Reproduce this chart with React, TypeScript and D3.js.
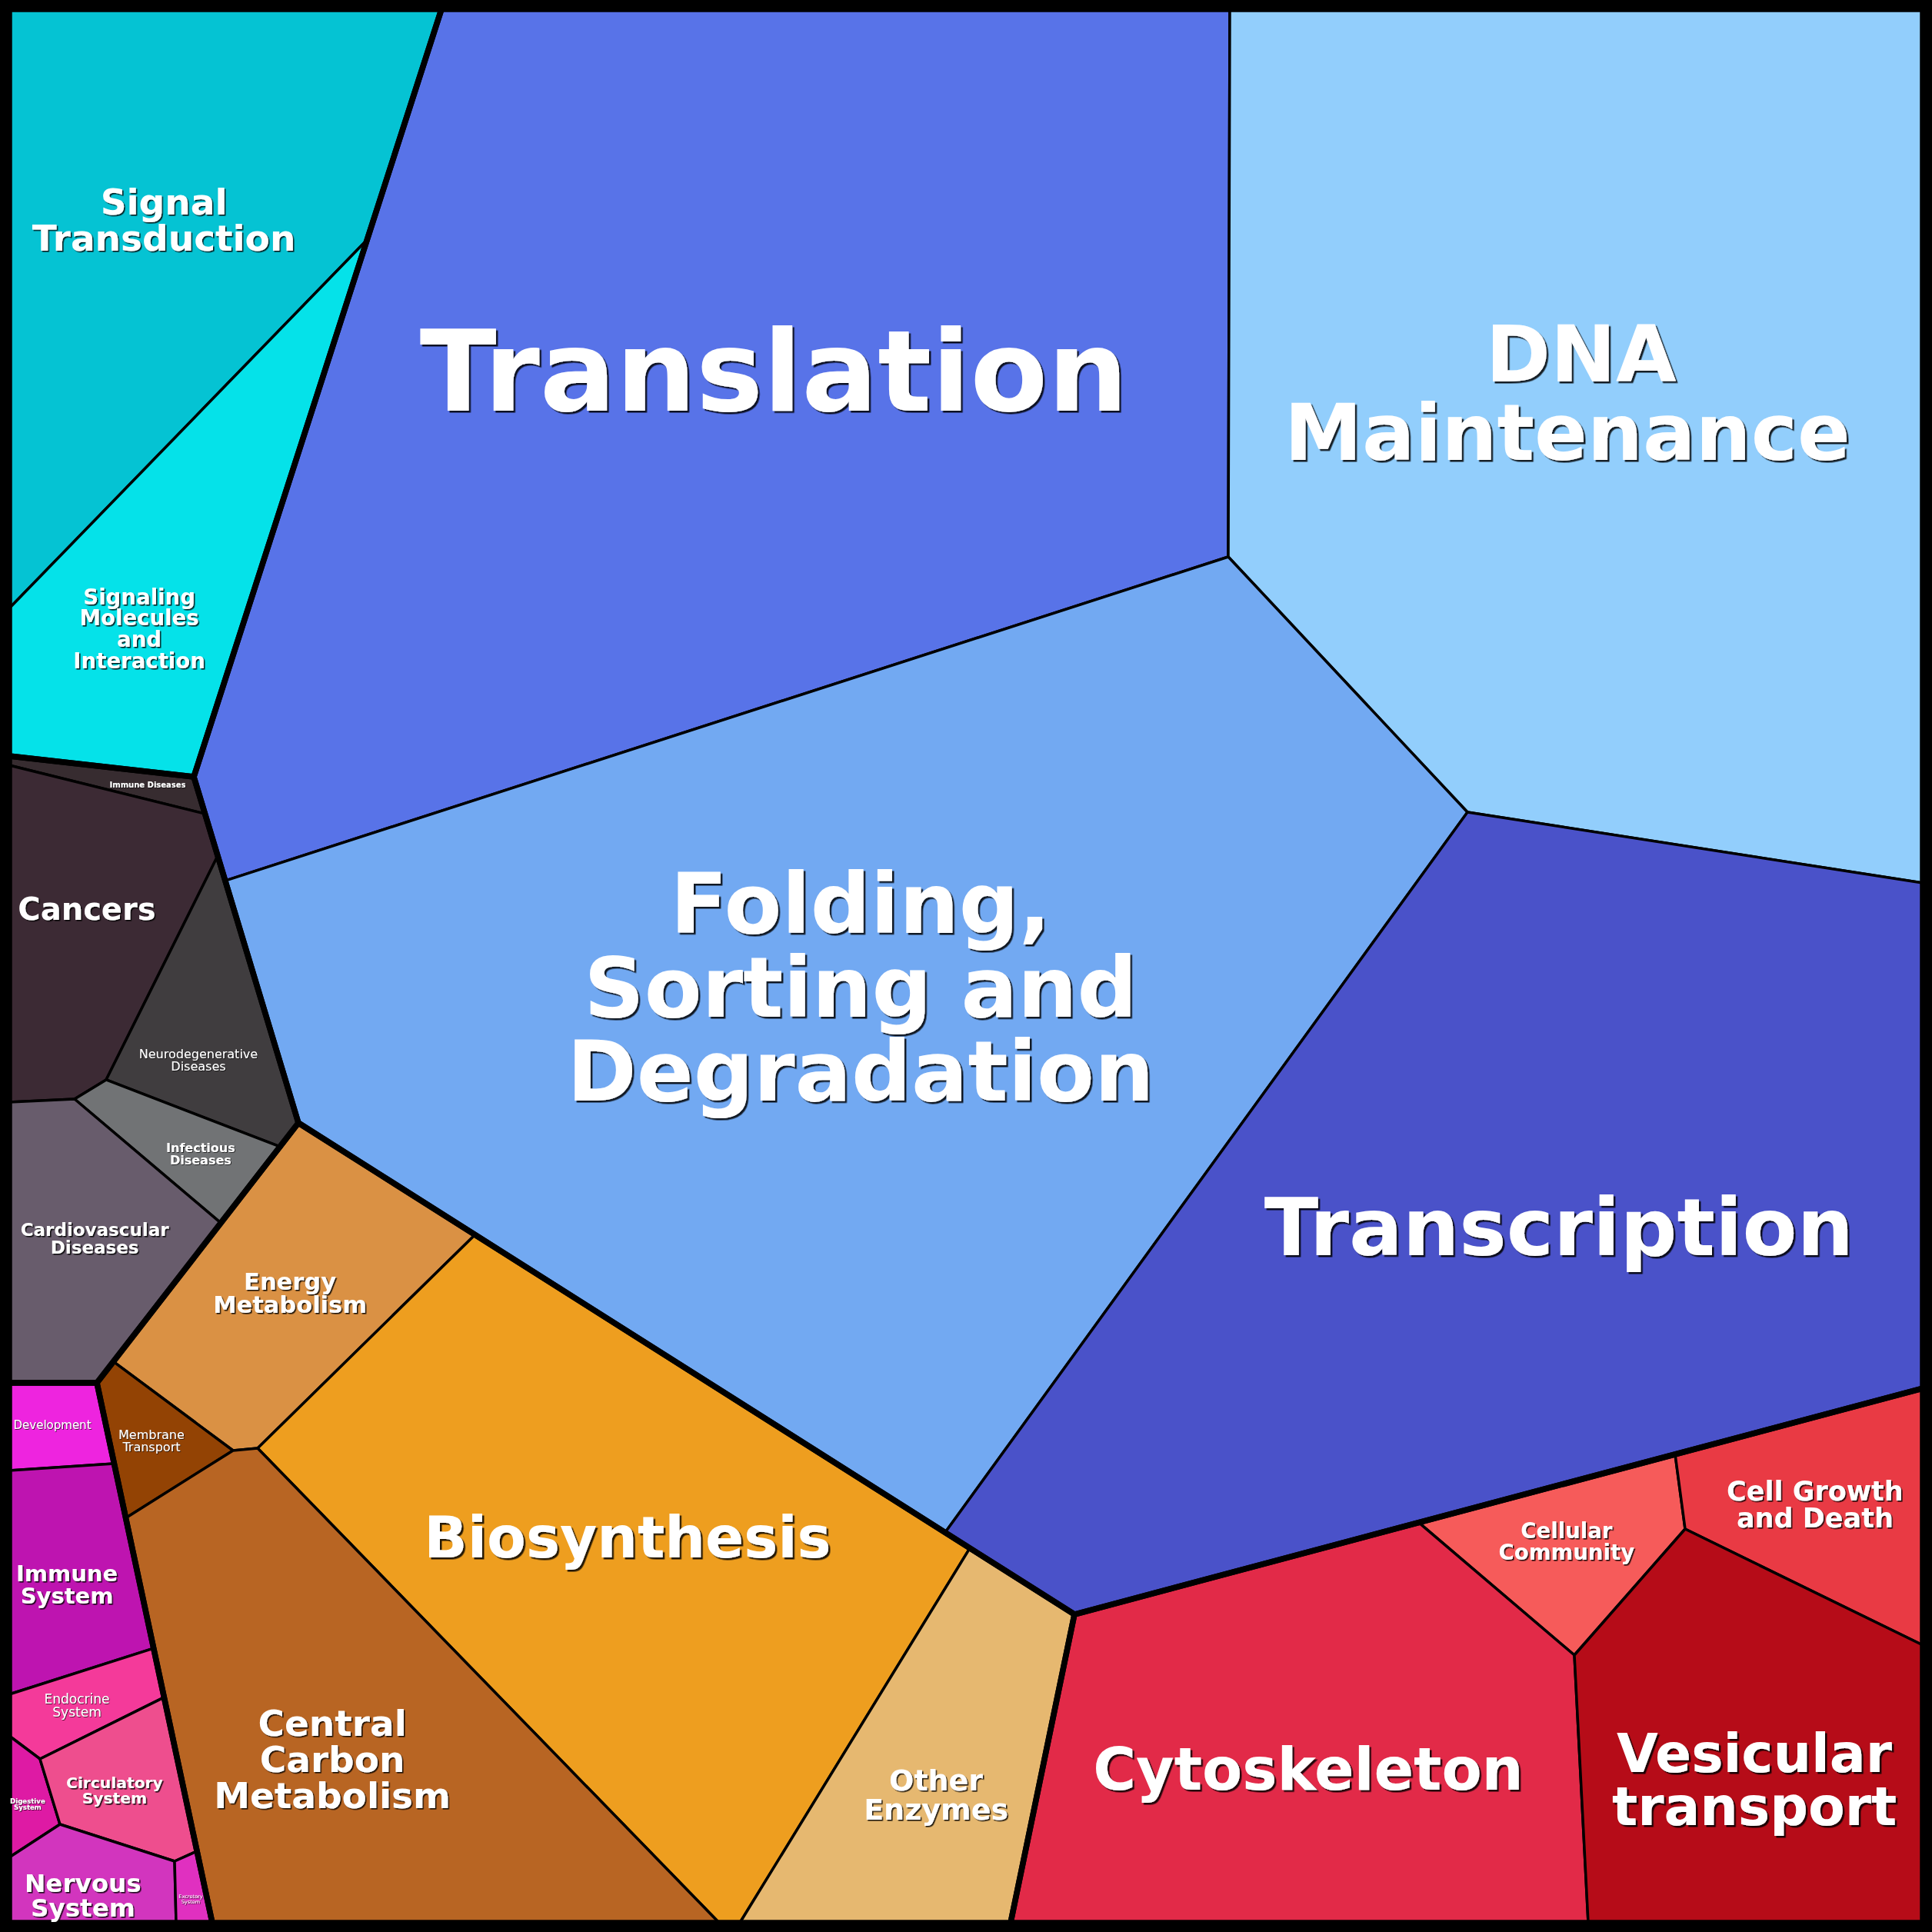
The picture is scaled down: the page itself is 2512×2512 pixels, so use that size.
import React from 'react';
import * as d3 from 'd3';

type P = [number, number];

// ---------- DATA: hierarchical power-diagram (Voronoi treemap) generators ----------
const groups = [
  'Environmental Information Processing',
  'Genetic Information Processing',
  'Human Diseases',
  'Metabolism',
  'Organismal Systems',
  'Cellular Processes',
];
const groupSiteX = [3.802, 60.076, -0.294, 32.448, -0.294, 73.996];
const groupSiteY = [17.559, 35.716, 53.961, 79.34, 86.337, 87.94];
const groupWeight = [358.19, 2377.85, 105.93, 598.09, 0.0, 390.75];

const categories = [
  'Signal Transduction', 'Signaling Molecules and Interaction',
  'Translation', 'DNA Maintenance', 'Folding, Sorting and Degradation', 'Transcription',
  'Immune Diseases', 'Cancers', 'Neurodegenerative Diseases', 'Infectious Diseases', 'Cardiovascular Diseases',
  'Energy Metabolism', 'Membrane Transport', 'Biosynthesis', 'Central Carbon Metabolism', 'Other Enzymes',
  'Development', 'Immune System', 'Endocrine System', 'Digestive System', 'Circulatory System', 'Nervous System', 'Excretory System',
  'Cellular Community', 'Cell Growth and Death', 'Cytoskeleton', 'Vesicular transport',
];
const categoryGroup = [0, 0, 1, 1, 1, 1, 2, 2, 2, 2, 2, 3, 3, 3, 3, 3, 4, 4, 4, 4, 4, 4, 4, 5, 5, 5, 5];
const siteX = [
  2.423, 12.448,
  39.878, 82.389, 49.779, 74.82,
  6.15, 3.854, 11.583, 9.5, 4.564,
  15.325, 7.628, 29.883, 17.815, 49.083,
  1.882, 2.449, 4.454, 0.713, 6.112, 3.97, 9.037,
  78.961, 96.515, 69.454, 90.44,
];
const siteY = [
  16.798, 26.53,
  18.472, 18.591, 49.138, 67.296,
  40.245, 49.499, 53.35, 58.759, 64.585,
  65.619, 75.97, 80.439, 92.175, 92.227,
  74.02, 82.589, 88.871, 93.86, 92.208, 98.859, 98.733,
  80.928, 78.576, 92.093, 91.008,
];
const siteWeight = [
  38.67, 0.0,
  221.12, 0.0, 165.49, 59.36,
  0.0, 76.29, 82.48, 60.82, 80.09,
  90.34, 0.0, 306.12, 304.52, 33.83,
  0.0, 35.66, 20.2, 12.16, 26.39, 25.18, 3.0,
  0.0, 3.97, 155.34, 65.85,
];

// ---------- STYLE ----------
const colors: Record<string, string> = {
  'Signal Transduction': '#05c3d3', 'Signaling Molecules and Interaction': '#05e2e9',
  'Translation': '#5873e8', 'DNA Maintenance': '#92cefc', 'Folding, Sorting and Degradation': '#72a9f2', 'Transcription': '#4a52c9',
  'Immune Diseases': '#372c30', 'Cancers': '#3c2a34', 'Neurodegenerative Diseases': '#403d3f', 'Infectious Diseases': '#717375', 'Cardiovascular Diseases': '#685c6c',
  'Energy Metabolism': '#da9144', 'Membrane Transport': '#934304', 'Biosynthesis': '#ee9e1f', 'Central Carbon Metabolism': '#b86523', 'Other Enzymes': '#e6b870',
  'Development': '#ee24df', 'Immune System': '#be14b0', 'Endocrine System': '#f43a9a', 'Digestive System': '#de1aa4', 'Circulatory System': '#ee4e8e', 'Nervous System': '#d235be', 'Excretory System': '#e030c0',
  'Cellular Community': '#f65b5a', 'Cell Growth and Death': '#e93a44', 'Cytoskeleton': '#e22a48', 'Vesicular transport': '#b60c18',
};

// label lines, font size (px), weight, nudge from centroid (layout units)
const labelStyle: Record<string, { lines: string[]; fs: number; fw: string; dx: number; dy: number }> = {
  'Signal Transduction': { lines: ['Signal', 'Transduction'], fs: 47, fw: 'bold', dx: -0.54, dy: -0.17 },
  'Signaling Molecules and Interaction': { lines: ['Signaling', 'Molecules', 'and', 'Interaction'], fs: 27.6, fw: 'bold', dx: -1.56, dy: 2.96 },
  'Translation': { lines: ['Translation'], fs: 146.5, fw: 'bold', dx: 2.25, dy: -0.92 },
  'DNA Maintenance': { lines: ['\u00A0DNA', 'Maintenance'], fs: 101.5, fw: 'bold', dx: -1.53, dy: -0.7 },
  'Folding, Sorting and Degradation': { lines: ['Folding,', 'Sorting and', 'Degradation'], fs: 109, fw: 'bold', dx: -0.27, dy: -0.88 },
  'Transcription': { lines: ['Transcription'], fs: 103.4, fw: 'bold', dx: 2.56, dy: 0.32 },
  'Immune Diseases': { lines: ['Immune Diseases'], fs: 10, fw: 'bold', dx: 1.3, dy: 0.16 },
  'Cancers': { lines: ['Cancers'], fs: 40, fw: 'bold', dx: -0.16, dy: -0.77 },
  'Neurodegenerative Diseases': { lines: ['Neurodegenerative', 'Diseases'], fs: 16, fw: 'normal', dx: -0.58, dy: 1.59 },
  'Infectious Diseases': { lines: ['Infectious', 'Diseases'], fs: 16, fw: 'bold', dx: 0.92, dy: 0.43 },
  'Cardiovascular Diseases': { lines: ['Cardiovascular', 'Diseases'], fs: 23, fw: 'bold', dx: 0.4, dy: -0.2 },
  'Energy Metabolism': { lines: ['Energy', 'Metabolism'], fs: 30.5, fw: 'bold', dx: 0.12, dy: 0.13 },
  'Membrane Transport': { lines: ['Membrane', 'Transport'], fs: 16, fw: 'normal', dx: 0.02, dy: 0.02 },
  'Biosynthesis': { lines: ['Biosynthesis'], fs: 74, fw: 'bold', dx: 0.31, dy: -1.12 },
  'Central Carbon Metabolism': { lines: ['Central', 'Carbon', 'Metabolism'], fs: 47, fw: 'bold', dx: -1.26, dy: 1.17 },
  'Other Enzymes': { lines: ['Other', 'Enzymes'], fs: 38, fw: 'bold', dx: -0.01, dy: 1.23 },
  'Development': { lines: ['Development'], fs: 15, fw: 'normal', dx: -0.24, dy: -0.06 },
  'Immune System': { lines: ['Immune', 'System'], fs: 29, fw: 'bold', dx: -0.19, dy: 0.47 },
  'Endocrine System': { lines: ['Endocrine', 'System'], fs: 17, fw: 'normal', dx: -0.31, dy: 0.12 },
  'Digestive System': { lines: ['Digestive', 'System'], fs: 8.6, fw: 'bold', dx: -0.03, dy: 0.26 },
  'Circulatory System': { lines: ['Circulatory', 'System'], fs: 20.3, fw: 'bold', dx: -0.55, dy: 0.27 },
  'Nervous System': { lines: ['Nervous', 'System'], fs: 32.6, fw: 'bold', dx: -0.33, dy: 0.69 },
  'Excretory System': { lines: ['Excretory', 'System'], fs: 6.6, fw: 'normal', dx: 0.0, dy: 0.38 },
  'Cellular Community': { lines: ['Cellular', 'Community'], fs: 27.6, fw: 'bold', dx: -0.27, dy: -0.16 },
  'Cell Growth and Death': { lines: ['Cell Growth', 'and Death'], fs: 35, fw: 'bold', dx: -0.46, dy: -0.06 },
  'Cytoskeleton': { lines: ['Cytoskeleton'], fs: 76, fw: 'bold', dx: -0.25, dy: 0.84 },
  'Vesicular transport': { lines: ['Vesicular', 'transport'], fs: 69.5, fw: 'bold', dx: 0.32, dy: 1.38 },
};

const SIZE = 2512;
const FRAME = 12;
const THIN = 3.5;
const THICK = 7.5;

// ---------- power diagram ----------
function clipHalf(poly: P[], ax: number, ay: number, c: number): P[] {
  const out: P[] = [];
  const n = poly.length;
  for (let k = 0; k < n; k++) {
    const A = poly[k], B = poly[(k + 1) % n];
    const fa = ax * A[0] + ay * A[1] - c, fb = ax * B[0] + ay * B[1] - c;
    if (fa <= 0) out.push(A);
    if ((fa < 0 && fb > 0) || (fa > 0 && fb < 0)) {
      const t = fa / (fa - fb);
      out.push([A[0] + t * (B[0] - A[0]), A[1] + t * (B[1] - A[1])]);
    }
  }
  return out;
}

function powerCells(clip: P[], sites: P[], w: number[]): P[][] {
  return sites.map((p, i) => {
    let poly = clip;
    sites.forEach((q, j) => {
      if (j === i) return;
      poly = clipHalf(poly, 2 * (q[0] - p[0]), 2 * (q[1] - p[1]),
        q[0] * q[0] + q[1] * q[1] - p[0] * p[0] - p[1] * p[1] - w[j] + w[i]);
    });
    return poly;
  });
}

export default function App() {
  const x = d3.scaleLinear().domain([0, 100]).range([FRAME, SIZE - FRAME]);
  const y = d3.scaleLinear().domain([0, 100]).range([FRAME, SIZE - FRAME]);
  const unit = x(1) - x(0);

  const square: P[] = [[0, 0], [100, 0], [100, 100], [0, 100]];
  const groupPolys = powerCells(square, groups.map((_, i) => [groupSiteX[i], groupSiteY[i]] as P), groupWeight);

  const leaves: { name: string; poly: P[] }[] = [];
  groups.forEach((_, g) => {
    const idx = categories.map((_, i) => i).filter(i => categoryGroup[i] === g);
    const polys = powerCells(groupPolys[g], idx.map(i => [siteX[i], siteY[i]] as P), idx.map(i => siteWeight[i]));
    idx.forEach((i, k) => leaves.push({ name: categories[i], poly: polys[k] }));
  });

  const line = d3.line<P>().x(d => x(d[0])).y(d => y(d[1]));
  const path = (pl: P[]) => line(pl)! + 'Z';

  const shadowFor = (fs: number) => (fs < 20 ? 'url(#sh1)' : fs < 60 ? 'url(#sh2)' : 'url(#sh3)');

  return (
    <svg width={SIZE} height={SIZE} style={{ position: 'absolute', left: 0, top: 0, display: 'block' }}>
      <defs>
        <filter id="sh1" x="-10%" y="-10%" width="120%" height="130%">
          <feDropShadow dx={0.8} dy={0.8} stdDeviation={0.3} floodColor="#000" floodOpacity={0.85} />
        </filter>
        <filter id="sh2" x="-10%" y="-10%" width="120%" height="130%">
          <feDropShadow dx={1.6} dy={1.6} stdDeviation={0.4} floodColor="#000" floodOpacity={0.85} />
        </filter>
        <filter id="sh3" x="-10%" y="-10%" width="120%" height="130%">
          <feDropShadow dx={2.5} dy={2.5} stdDeviation={0.5} floodColor="#000" floodOpacity={0.85} />
        </filter>
      </defs>
      <rect width={SIZE} height={SIZE} fill="#000" />
      {leaves.map(l => (
        <path key={l.name} d={path(l.poly)} fill={colors[l.name]} stroke="#000" strokeWidth={THIN} strokeLinejoin="round" />
      ))}
      {groupPolys.map((pl, i) => (
        <path key={groups[i]} d={path(pl)} fill="none" stroke="#000" strokeWidth={THICK} strokeLinejoin="round" />
      ))}
      {leaves.map(l => {
        const st = labelStyle[l.name];
        const c = d3.polygonCentroid(l.poly.map(q => [x(q[0]), y(q[1])] as [number, number]));
        const cx = c[0] + st.dx * unit;
        const cy = c[1] + st.dy * unit;
        const n = st.lines.length;
        return (
          <text key={'t' + l.name} fontFamily="'DejaVu Sans', Verdana, sans-serif" fontWeight={st.fw}
            fontSize={st.fs} textAnchor="middle" fill="#fff" filter={shadowFor(st.fs)}>
            {st.lines.map((t, k) => (
              <tspan key={k} x={cx} y={cy + (k - (n - 1) / 2) * st.fs + 0.3645 * st.fs}>{t}</tspan>
            ))}
          </text>
        );
      })}
      <rect x={0} y={0} width={SIZE} height={SIZE} fill="none" stroke="#000" strokeWidth={FRAME * 2} />
    </svg>
  );
}
